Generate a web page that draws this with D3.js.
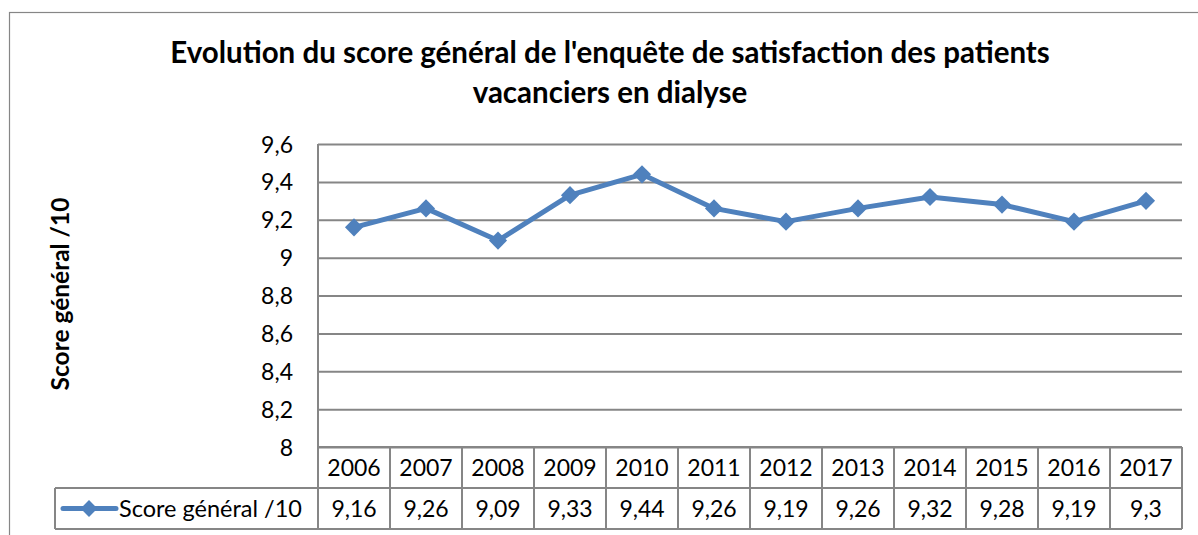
<!DOCTYPE html>
<html>
<head>
<meta charset="utf-8">
<script src="https://cdn.jsdelivr.net/npm/d3@7"></script>
<style>
  body { margin: 0; background: #fff; }
  svg text { font-family: Lato, "Open Sans", sans-serif; fill: #000; }
</style>
</head>
<body>
<svg width="1198" height="535"></svg>
<script>
// data
const years = ['2006', '2007', '2008', '2009', '2010', '2011', '2012', '2013', '2014', '2015', '2016', '2017'];
const scores = [9.16, 9.26, 9.09, 9.33, 9.44, 9.26, 9.19, 9.26, 9.32, 9.28, 9.19, 9.3];
const yTicks = [8, 8.2, 8.4, 8.6, 8.8, 9, 9.2, 9.4, 9.6];
const seriesName = 'Score général /10';
const titleLines = ["Evolution du score général de l'enquête de satisfaction des patients", 'vacanciers en dialyse'];

const blue = '#4f81bd';
const grid = '#868686';
const fmt = (v) => String(+v.toFixed(2)).replace('.', ',');

const svg = d3.select('svg');

// outer chart frame
svg.append('rect')
  .attr('x', 9.5).attr('y', 12.5)
  .attr('width', 1200).attr('height', 600)
  .attr('fill', 'none').attr('stroke', grid).attr('stroke-width', 1.2);

const plotL = 318, plotR = 1182, plotT = 144, plotB = 447;
const x = d3.scaleBand().domain(years).range([plotL, plotR]);
const y = d3.scaleLinear().domain([8, 9.6]).range([plotB, plotT]);

// title
svg.append('g').selectAll('text')
  .data(titleLines)
  .enter()
  .append('text')
  .attr('x', 610)
  .attr('y', (d, i) => 63 + i * 40)
  .attr('text-anchor', 'middle')
  .attr('font-size', 29.5)
  .attr('font-weight', 'bold')
  .text((d) => d);

// y axis label
svg.append('text')
  .attr('transform', 'translate(69, 294) rotate(-90)')
  .attr('text-anchor', 'middle')
  .attr('font-size', 24.5)
  .attr('font-weight', 'bold')
  .text(seriesName);

// gridlines + tick labels via d3 axis
const yAxis = svg.append('g')
  .attr('transform', `translate(${plotL},0)`)
  .call(d3.axisLeft(y).tickValues(yTicks).tickFormat(fmt).tickSize(-(plotR - plotL)).tickPadding(25));
yAxis.select('.domain').remove();
yAxis.selectAll('.tick line').attr('stroke', grid).attr('stroke-width', 2);
yAxis.selectAll('.tick text').attr('font-size', 23).attr('font-family', 'Lato, sans-serif').attr('fill', '#000').attr('dy', '0.35em');

// left plot border running through the table
svg.append('line')
  .attr('x1', plotL).attr('x2', plotL)
  .attr('y1', plotT).attr('y2', 529)
  .attr('stroke', grid).attr('stroke-width', 2);

// data table
const row1 = 447, row2 = 488, row3 = 529;
const table = svg.append('g').attr('stroke', grid).attr('stroke-width', 2).attr('fill', 'none');
table.append('line').attr('x1', plotL).attr('x2', plotR).attr('y1', row1).attr('y2', row1);
table.append('line').attr('x1', 55).attr('x2', plotR).attr('y1', row2).attr('y2', row2);
table.append('line').attr('x1', 55).attr('x2', plotR).attr('y1', row3).attr('y2', row3);
table.append('line').attr('x1', 55).attr('x2', 55).attr('y1', row2).attr('y2', row3);
table.selectAll('.col')
  .data(years)
  .enter()
  .append('line')
  .attr('x1', (d) => x(d) + x.bandwidth())
  .attr('x2', (d) => x(d) + x.bandwidth())
  .attr('y1', row1).attr('y2', row3);

svg.append('g').selectAll('text')
  .data(years)
  .enter()
  .append('text')
  .attr('x', (d) => x(d) + x.bandwidth() / 2)
  .attr('y', (row1 + row2) / 2)
  .attr('dy', '0.35em')
  .attr('text-anchor', 'middle')
  .attr('font-size', 23)
  .text((d) => d);

svg.append('g').selectAll('text')
  .data(scores)
  .enter()
  .append('text')
  .attr('x', (d, i) => x(years[i]) + x.bandwidth() / 2)
  .attr('y', (row2 + row3) / 2)
  .attr('dy', '0.35em')
  .attr('text-anchor', 'middle')
  .attr('font-size', 23)
  .text((d) => fmt(d));

// legend key in the table
const ly = (row2 + row3) / 2;
svg.append('line')
  .attr('x1', 63).attr('x2', 116).attr('y1', ly).attr('y2', ly)
  .attr('stroke', blue).attr('stroke-width', 5).attr('stroke-linecap', 'round');
svg.append('path')
  .attr('d', d3.symbol(d3.symbolDiamond2, 180)())
  .attr('transform', `translate(89,${ly})`)
  .attr('fill', blue);
svg.append('text')
  .attr('x', 119).attr('y', ly).attr('dy', '0.35em')
  .attr('font-size', 23.5)
  .text(seriesName);

// series line
const line = d3.line()
  .x((d, i) => x(years[i]) + x.bandwidth() / 2)
  .y((d) => y(d));
svg.append('path')
  .datum(scores)
  .attr('d', line)
  .attr('fill', 'none')
  .attr('stroke', blue)
  .attr('stroke-width', 5)
  .attr('stroke-linejoin', 'round');

svg.append('g').selectAll('path')
  .data(scores)
  .enter()
  .append('path')
  .attr('d', d3.symbol(d3.symbolDiamond2, 210)())
  .attr('transform', (d, i) => `translate(${x(years[i]) + x.bandwidth() / 2},${y(d)})`)
  .attr('fill', blue);
</script>
</body>
</html>
